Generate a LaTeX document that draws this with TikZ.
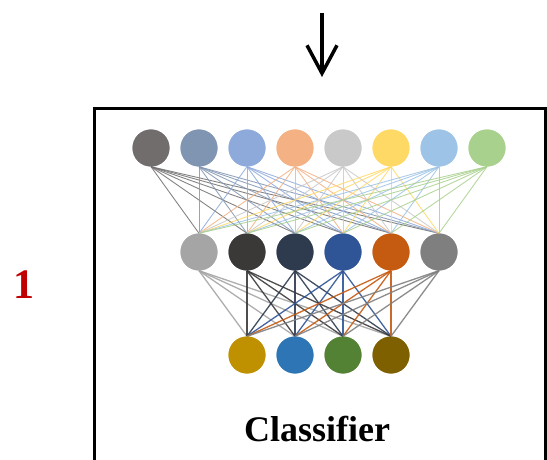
\documentclass[tikz,border=0pt]{standalone}
\usepackage{fontspec}
\setmainfont{Liberation Serif}
\usetikzlibrary{arrows.meta}
\definecolor{ct1}{HTML}{716D6D}
\definecolor{ct2}{HTML}{8095B1}
\definecolor{ct3}{HTML}{8EAADB}
\definecolor{ct4}{HTML}{F4B183}
\definecolor{ct5}{HTML}{C9C9C9}
\definecolor{ct6}{HTML}{FFD966}
\definecolor{ct7}{HTML}{9DC3E6}
\definecolor{ct8}{HTML}{A9D18E}
\definecolor{cm1}{HTML}{A5A5A5}
\definecolor{cm2}{HTML}{3B3838}
\definecolor{cm3}{HTML}{2E3B4F}
\definecolor{cm4}{HTML}{2F5597}
\definecolor{cm5}{HTML}{C55A11}
\definecolor{cm6}{HTML}{7F7F7F}
\definecolor{cb1}{HTML}{BF9000}
\definecolor{cb2}{HTML}{2E75B6}
\definecolor{cb3}{HTML}{548235}
\definecolor{cb4}{HTML}{7F6000}
\definecolor{numred}{HTML}{C00000}
\tikzset{
  neuron/.style={circle, minimum size=37pt, inner sep=0pt, draw=none},
  toplink/.style={line width=0.9pt, opacity=0.85},
  lowlink/.style={line width=1.3pt, opacity=0.9},
  frame/.style={draw=black, line width=3pt},
}
\begin{document}
\begin{tikzpicture}[x=1pt, y=-1pt]
\clip (0,0) rectangle (547,460);
\useasboundingbox (0,0) rectangle (547,460);
% frame
\draw[frame] (94,109) rectangle (545,480);
% arrow
\coordinate (arrtop) at (322,13);
\coordinate (arrtip) at (322,77);
\draw[line width=3.5pt, -{Straight Barb[length=28pt, width=30pt]}] (arrtop) -- (arrtip);
% nodes
\foreach \i/\x in {1/151,2/199,3/247,4/295,5/343,6/391,7/439,8/487}
  \node[neuron, fill=ct\i] (t\i) at (\x,148) {};
\foreach \i/\x in {1/199,2/247,3/295,4/343,5/391,6/439}
  \node[neuron, fill=cm\i] (m\i) at (\x,252) {};
\foreach \i/\x in {1/247,2/295,3/343,4/391}
  \node[neuron, fill=cb\i] (b\i) at (\x,355) {};
% links
\begin{scope}[on background layer/.style={}]
\foreach \i in {1,...,8}
  \foreach \j in {1,...,6}
    \draw[toplink, draw=ct\i] (t\i.south) -- (m\j.north);
\foreach \i in {1,...,6}
  \foreach \j in {1,...,4}
    \draw[lowlink, draw=cm\i] (m\i.south) -- (b\j.north);
\end{scope}
% redraw nodes on top
\foreach \i/\x in {1/151,2/199,3/247,4/295,5/343,6/391,7/439,8/487}
  \fill[ct\i] (t\i) circle (18.5pt);
\foreach \i/\x in {1/199,2/247,3/295,4/343,5/391,6/439}
  \fill[cm\i] (m\i) circle (18.5pt);
\foreach \i/\x in {1/247,2/295,3/343,4/391}
  \fill[cb\i] (b\i) circle (18.5pt);
% texts
\node[anchor=base, font=\fontsize{36}{40}\selectfont\bfseries] (cls) at (317,441) {Classifier};
\node[anchor=base, text=numred, font=\fontsize{42}{46}\selectfont\bfseries] (num) at (24,298) {1};
\end{tikzpicture}
\end{document}
